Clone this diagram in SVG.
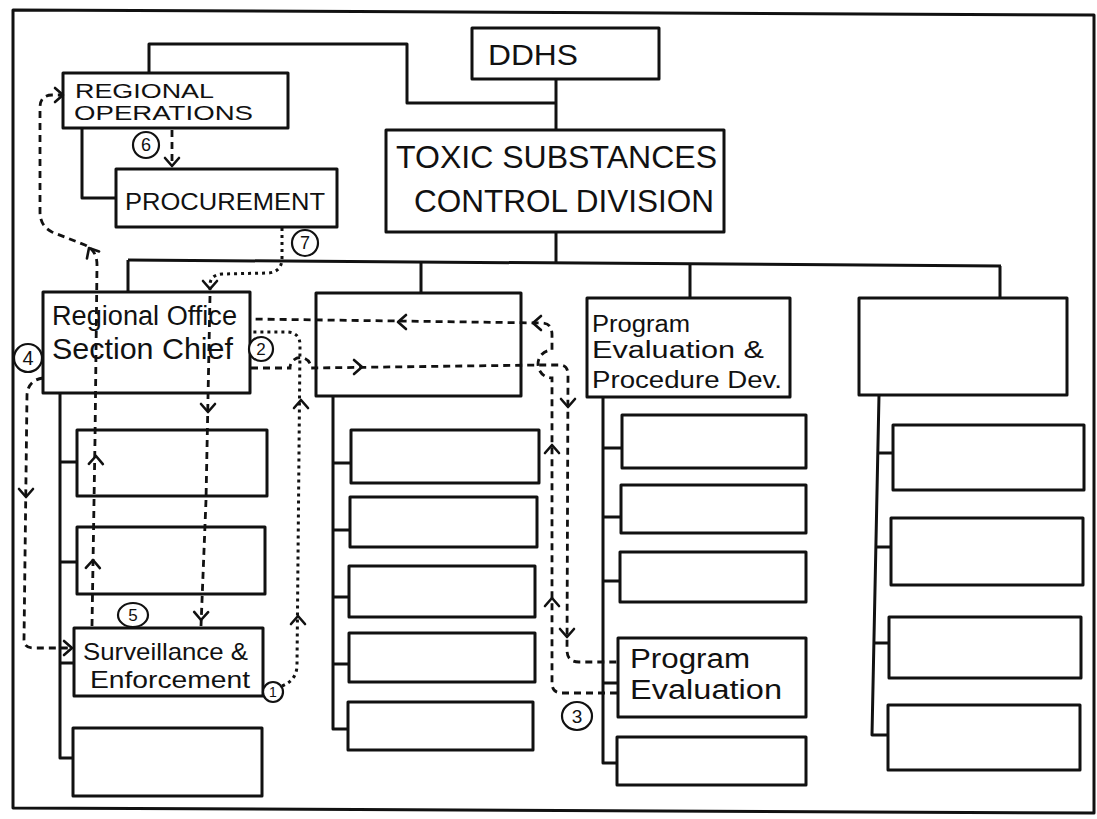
<svg xmlns="http://www.w3.org/2000/svg" xmlns:xlink="http://www.w3.org/1999/xlink" width="1097" height="819" viewBox="0 0 1097 819">
<style>
.box{fill:none;stroke:#111;stroke-width:3;stroke-linejoin:round}
.ln{fill:none;stroke:#111;stroke-width:3;stroke-linejoin:round}
.dash{fill:none;stroke:#111;stroke-width:2.8;stroke-dasharray:7 5}
.dot{fill:none;stroke:#111;stroke-width:3;stroke-dasharray:3 4}
.chev{fill:none;stroke:#111;stroke-width:2.6;stroke-linecap:round;stroke-linejoin:round}
.num{fill:#fff;stroke:#111;stroke-width:2.2}
.t{font-family:"Liberation Sans",Arial,sans-serif;fill:#111}
.n{font-family:"Liberation Sans",Arial,sans-serif;fill:#111;text-anchor:middle}
</style>
<defs>
<path id="chev" class="chev" d="M-8,-7 L0,0 L-8,7"/>
</defs>
<rect width="1097" height="819" fill="#fff"/>
<path class="ln" d="M13,10 L1094,15 L1094,813 L13,808 Z"/>

<g id="n-ddhs">
<rect class="box" x="472" y="28" width="187" height="51"/>
<text class="t" x="488" y="65" font-size="30" textLength="90" lengthAdjust="spacingAndGlyphs">DDHS</text>
</g>
<g id="n-tscd">
<rect class="box" x="386" y="130" width="338" height="102"/>
<text class="t" x="396" y="168" font-size="32" textLength="321" lengthAdjust="spacingAndGlyphs">TOXIC SUBSTANCES</text>
<text class="t" x="414" y="212" font-size="32" textLength="300" lengthAdjust="spacingAndGlyphs">CONTROL DIVISION</text>
</g>
<g id="n-regops">
<rect class="box" x="63" y="73" width="225" height="55"/>
<text class="t" x="75" y="98" font-size="21" textLength="139" lengthAdjust="spacingAndGlyphs">REGIONAL</text>
<text class="t" x="74" y="120" font-size="21" textLength="179" lengthAdjust="spacingAndGlyphs">OPERATIONS</text>
</g>
<g id="n-proc">
<rect class="box" x="116" y="169" width="221" height="58"/>
<text class="t" x="125" y="210" font-size="24" textLength="200" lengthAdjust="spacingAndGlyphs">PROCUREMENT</text>
</g>

<g id="n-rosc">
<rect class="box" x="43" y="292" width="207" height="101"/>
<text class="t" x="52" y="325" font-size="27" textLength="185" lengthAdjust="spacingAndGlyphs">Regional Office</text>
<text class="t" x="52" y="359" font-size="30" textLength="181" lengthAdjust="spacingAndGlyphs">Section Chief</text>
</g>
<g id="n-c1a"><rect class="box" x="77" y="430" width="190" height="66"/></g>
<g id="n-c1b"><rect class="box" x="77" y="527" width="188" height="67"/></g>
<g id="n-surv">
<rect class="box" x="74" y="628" width="189" height="68"/>
<text class="t" x="83" y="660" font-size="24" textLength="165" lengthAdjust="spacingAndGlyphs">Surveillance &amp;</text>
<text class="t" x="90" y="688" font-size="24" textLength="160" lengthAdjust="spacingAndGlyphs">Enforcement</text>
</g>
<g id="n-c1d"><rect class="box" x="73" y="728" width="189" height="68"/></g>

<g id="n-col2"><rect class="box" x="316" y="293" width="205" height="103"/></g>
<g id="n-c2a"><rect class="box" x="351" y="430" width="188" height="53"/></g>
<g id="n-c2b"><rect class="box" x="350" y="497" width="187" height="50"/></g>
<g id="n-c2c"><rect class="box" x="349" y="566" width="186" height="51"/></g>
<g id="n-c2d"><rect class="box" x="349" y="633" width="186" height="49"/></g>
<g id="n-c2e"><rect class="box" x="348" y="702" width="185" height="48"/></g>

<g id="n-pepd">
<rect class="box" x="587" y="298" width="203" height="99"/>
<text class="t" x="592" y="332" font-size="23" textLength="98" lengthAdjust="spacingAndGlyphs">Program</text>
<text class="t" x="592" y="358" font-size="23" textLength="172" lengthAdjust="spacingAndGlyphs">Evaluation &amp;</text>
<text class="t" x="592" y="388" font-size="23" textLength="190" lengthAdjust="spacingAndGlyphs">Procedure Dev.</text>
</g>
<g id="n-c3a"><rect class="box" x="622" y="415" width="184" height="53"/></g>
<g id="n-c3b"><rect class="box" x="621" y="485" width="185" height="48"/></g>
<g id="n-c3c"><rect class="box" x="620" y="552" width="186" height="50"/></g>
<g id="n-pe">
<rect class="box" x="618" y="638" width="188" height="79"/>
<text class="t" x="630" y="668" font-size="27" textLength="120" lengthAdjust="spacingAndGlyphs">Program</text>
<text class="t" x="630" y="699" font-size="27" textLength="152" lengthAdjust="spacingAndGlyphs">Evaluation</text>
</g>
<g id="n-c3e"><rect class="box" x="617" y="737" width="189" height="48"/></g>

<g id="n-col4"><rect class="box" x="859" y="298" width="208" height="97"/></g>
<g id="n-c4a"><rect class="box" x="893" y="425" width="191" height="65"/></g>
<g id="n-c4b"><rect class="box" x="891" y="518" width="192" height="67"/></g>
<g id="n-c4c"><rect class="box" x="889" y="617" width="192" height="61"/></g>
<g id="n-c4d"><rect class="box" x="888" y="705" width="192" height="65"/></g>

<g id="connectors">
<path class="ln" d="M556,79 V130"/>
<path class="ln" d="M149,73 V44 H407 V103 H556"/>
<path class="ln" d="M556,232 V262"/>
<path class="ln" d="M128,260 L1001,266"/>
<path class="ln" d="M128,260 V292 M421,261 V293 M690,264 V298 M1000,266 V298"/>
<path class="ln" d="M82,128 V198 H116"/>
<path class="ln" d="M60,393 V758 H73 M60,462 H77 M60,562 H77 M60,663 H74"/>
<path class="ln" d="M333,396 V729 H348 M333,463 H351 M333,530 H350 M333,597 H349 M333,664 H349"/>
<path class="ln" d="M603,397 V763 H617 M603,448 H622 M603,517 H621 M603,581 H620 M603,683 H618"/>
<path class="ln" d="M879,395 L872,735 H888 M878,453 H893 M876,547 H891 M874,643 H889"/>

<path class="dash" d="M172,130 V164"/>
<use xlink:href="#chev" transform="translate(172,166) rotate(90)"/>

<path class="dot" d="M282,228 V258 Q282,272 268,273 L222,274 Q210,275 210,285 V290"/>
<use xlink:href="#chev" transform="translate(210,289) rotate(90)"/>
<path class="dash" d="M210,296 L206,500 L201,626"/>
<use xlink:href="#chev" transform="translate(208,412) rotate(90)"/>
<use xlink:href="#chev" transform="translate(201,620) rotate(91)"/>

<path class="dash" d="M92,626 L95,440 L97,265 Q97,250 85,245 L52,232 Q40,226 40,212 L40,108 Q40,95 52,95 L62,95"/>
<use xlink:href="#chev" transform="translate(93,560) rotate(-89)"/>
<use xlink:href="#chev" transform="translate(96,456) rotate(-89)"/>
<use xlink:href="#chev" transform="translate(89,248) rotate(-120)"/>
<use xlink:href="#chev" transform="translate(63,95)"/>

<path class="dash" d="M43,378 Q28,380 27,395 L24,640 Q24,648 34,648 L72,648"/>
<use xlink:href="#chev" transform="translate(26,497) rotate(90)"/>
<use xlink:href="#chev" transform="translate(72,648)"/>

<path class="dot" d="M282,686 Q297,680 297,665 L300,345 Q300,333 288,332 L251,332"/>
<use xlink:href="#chev" transform="translate(298,616) rotate(-90)"/>
<use xlink:href="#chev" transform="translate(301,400) rotate(-90)"/>

<path class="dash" d="M251,368 L290,368 A10.5,10.5 0 0 1 311,368 L540,365 L560,365 Q568,365 568,375 L567,650 Q567,662 579,662 L617,662"/>
<use xlink:href="#chev" transform="translate(362,367)"/>
<use xlink:href="#chev" transform="translate(568,407) rotate(90)"/>
<use xlink:href="#chev" transform="translate(567,637) rotate(90)"/>

<path class="dash" d="M617,693 L562,693 Q552,693 552,683 L552,378 A14,14 0 0 1 552,350 L552,335 Q552,323 542,323 L251,319"/>
<use xlink:href="#chev" transform="translate(552,598) rotate(-90)"/>
<use xlink:href="#chev" transform="translate(552,445) rotate(-90)"/>
<use xlink:href="#chev" transform="translate(533,323) rotate(180)"/>
<use xlink:href="#chev" transform="translate(398,322) rotate(180)"/>
</g>

<g id="labels">
<circle class="num" cx="273" cy="692" r="10"/><text class="n" x="273" y="697" font-size="14">1</text>
<circle class="num" cx="261" cy="349" r="12"/><text class="n" x="261" y="355" font-size="17">2</text>
<ellipse class="num" cx="577" cy="716" rx="15" ry="14"/><text class="n" x="577" y="723" font-size="19">3</text>
<circle class="num" cx="28" cy="358" r="14"/><text class="n" x="28" y="365" font-size="20">4</text>
<ellipse class="num" cx="133" cy="615" rx="15" ry="12"/><text class="n" x="133" y="621" font-size="17">5</text>
<circle class="num" cx="146" cy="145" r="13"/><text class="n" x="146" y="151" font-size="18">6</text>
<circle class="num" cx="305" cy="243" r="13"/><text class="n" x="305" y="249" font-size="18">7</text>
</g>
</svg>
